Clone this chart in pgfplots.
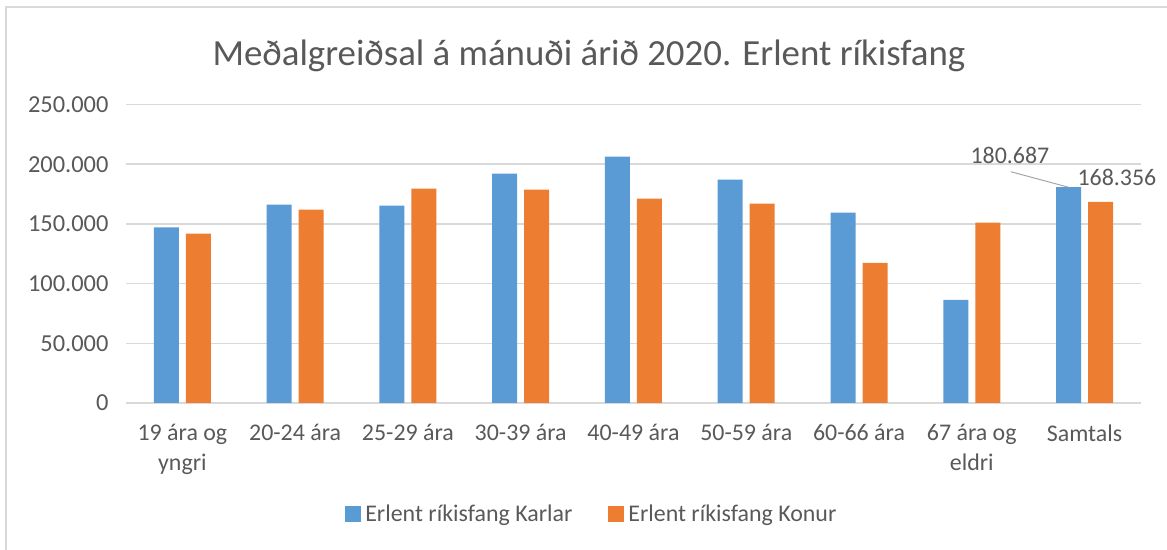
\documentclass[border=0pt]{standalone}
\usepackage{fontspec}
\setmainfont{Carlito}
\usepackage{pgfplots}
\pgfplotsset{compat=1.18}
\definecolor{cblue}{HTML}{5B9BD5}
\definecolor{corange}{HTML}{ED7D31}
\definecolor{ctext}{HTML}{595959}
\definecolor{cgrid}{HTML}{D9D9D9}
\begin{document}
\begin{tikzpicture}[x=1bp,y=1bp]
\useasboundingbox (0,0) rectangle (1167,550);
\draw[cgrid, line width=1.5bp] (6,-5) -- (6,543) -- (1175,543);
\node[ctext, font=\fontsize{37}{44}\selectfont] at (589,494) {Meðalgreiðsal á mánuði árið 2020. Erlent ríkisfang};
\begin{axis}[
  at={(126bp,147bp)}, anchor=south west,
  width=1015bp, height=298.5bp, scale only axis,
  clip=false,
  ybar=7bp, bar width=25bp,
  xmin=-0.5, xmax=8.5, ymin=0, ymax=250000,
  xtick={0,...,8},
  xticklabels={{19 ára og\\yngri},{20-24 ára},{25-29 ára},{30-39 ára},{40-49 ára},{50-59 ára},{60-66 ára},{67 ára og\\eldri},{Samtals}},
  xticklabel style={align=center, anchor=north, yshift=-18bp, font=\fontsize{24}{30}\selectfont, text=ctext},
  ytick={0,50000,100000,150000,200000,250000},
  scaled y ticks=false,
  yticklabel style={/pgf/number format/.cd, fixed, 1000 sep={.}, assume math mode=true, /tikz/.cd, font=\fontsize{24.5}{28}\selectfont, text=ctext, xshift=-14bp},
  major tick length=0pt,
  axis line style={draw=none},
  ymajorgrids, grid style={cgrid, line width=1.4bp},
  legend style={at={(0.459,-0.372)}, anchor=center, draw=none, fill=none, legend columns=2,
    font=\fontsize{24}{28}\selectfont, text=ctext,
    /tikz/every even column/.append style={column sep=34bp},
    /tikz/every odd column/.append style={column sep=2bp}},
  legend image code/.code={\fill[#1] (0bp,-8bp) rectangle (16bp,8bp);},
]
\addplot[fill=cblue, draw=none] coordinates {(0,147000) (1,166200) (2,165300) (3,192100) (4,206400) (5,187100) (6,159400) (7,86400) (8,180687)};
\addplot[fill=corange, draw=none] coordinates {(0,141800) (1,161900) (2,179500) (3,178700) (4,171100) (5,166900) (6,117400) (7,151000) (8,168356)};
\legend{Erlent ríkisfang Karlar, Erlent ríkisfang Konur}
\draw[color=gray!70, line width=1bp] ([xshift=-16bp]axis cs:8,180687) -- ([xshift=-73.6bp,yshift=15.5bp]axis cs:8,180687);
\node[ctext, font=\fontsize{24}{28}\selectfont, xshift=-74.6bp, yshift=32bp] at (axis cs:8,180687) {180.687};
\node[ctext, font=\fontsize{24}{28}\selectfont, xshift=32.4bp, yshift=25bp] at (axis cs:8,168356) {168.356};
\end{axis}
\end{tikzpicture}
\end{document}
